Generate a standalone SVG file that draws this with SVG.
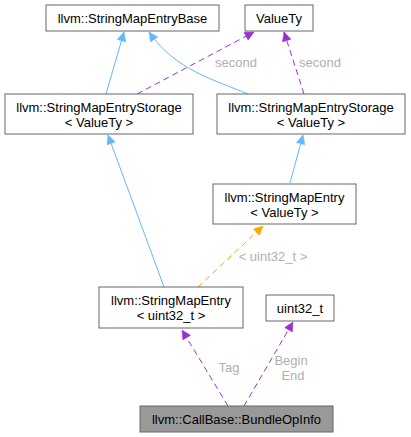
<svg xmlns="http://www.w3.org/2000/svg" width="411" height="437" viewBox="0 0 411 437">
<style>
  .node rect { fill: #ffffff; stroke: #666666; stroke-width: 1; }
  .node.main rect { fill: #999999; }
  .node text { font-family: "Liberation Sans", Arial, Helvetica, sans-serif; font-size: 13px; fill: #000000; text-anchor: middle; }
  .edge { fill: none; stroke-width: 1; }
  .inh { stroke: #63b8ff; }
  .use { stroke: #9a32cd; stroke-dasharray: 6,4; }
  .tpl { stroke: #ffa500; stroke-dasharray: 6,4; }
  .lbl { font-family: "Liberation Sans", Arial, Helvetica, sans-serif; font-size: 13px; fill: #b0b0b0; text-anchor: middle; }
</style>
<defs>
  <marker id="aBlue" viewBox="0 0 10 10" refX="10" refY="5" markerWidth="11" markerHeight="9" markerUnits="userSpaceOnUse" orient="auto">
    <path d="M0,0 L10,5 L0,10 z" fill="#63b8ff" stroke="#63b8ff" stroke-width="0.5"/>
  </marker>
  <marker id="aPurple" viewBox="0 0 10 10" refX="10" refY="5" markerWidth="11" markerHeight="9" markerUnits="userSpaceOnUse" orient="auto">
    <path d="M0,0 L10,5 L0,10 z" fill="#9a32cd" stroke="#9a32cd" stroke-width="0.5"/>
  </marker>
  <marker id="aOrange" viewBox="0 0 10 10" refX="10" refY="5" markerWidth="11" markerHeight="9" markerUnits="userSpaceOnUse" orient="auto">
    <path d="M0,0 L10,5 L0,10 z" fill="#ffa500" stroke="#ffa500" stroke-width="0.5"/>
  </marker>
</defs>

<g id="edges">
  <path class="edge inh" d="M106,94 L124,32" marker-end="url(#aBlue)"/>
  <path class="edge inh" d="M248,94 C215,80 175,70 149,32" marker-end="url(#aBlue)"/>
  <path class="edge use" d="M137,94 L254,32" marker-end="url(#aPurple)"/>
  <path class="edge use" d="M304,94 L284,32" marker-end="url(#aPurple)"/>
  <path class="edge inh" d="M290,183 L303,135" marker-end="url(#aBlue)"/>
  <path class="edge inh" d="M164,287 L108,135" marker-end="url(#aBlue)"/>
  <path class="edge tpl" d="M198,287 L263,226" marker-end="url(#aOrange)"/>
  <path class="edge use" d="M228,406 L182,330" marker-end="url(#aPurple)"/>
  <path class="edge use" d="M244,406 L293,322" marker-end="url(#aPurple)"/>
  <text class="lbl" x="236" y="67">second</text>
  <text class="lbl" x="320" y="67">second</text>
  <text class="lbl" x="273" y="261">&lt; uint32_t &gt;</text>
  <text class="lbl" x="229" y="372">Tag</text>
  <text class="lbl" x="291" y="365">Begin</text>
  <text class="lbl" x="293" y="380">End</text>
</g>

<g id="node_base" class="node">
  <rect x="46" y="5" width="173" height="26"/>
  <text x="132.5" y="22.5">llvm::StringMapEntryBase</text>
</g>
<g id="node_valuety" class="node">
  <rect x="245" y="5" width="68" height="26"/>
  <text x="279" y="22.5">ValueTy</text>
</g>
<g id="node_storage_left" class="node">
  <rect x="5" y="94" width="188" height="40"/>
  <text x="99" y="112">llvm::StringMapEntryStorage</text>
  <text x="99" y="126.5">&lt; ValueTy &gt;</text>
</g>
<g id="node_storage_right" class="node">
  <rect x="217" y="94" width="188" height="40"/>
  <text x="311" y="112">llvm::StringMapEntryStorage</text>
  <text x="311" y="126.5">&lt; ValueTy &gt;</text>
</g>
<g id="node_entry_valuety" class="node">
  <rect x="213" y="184" width="143" height="40"/>
  <text x="284.5" y="202">llvm::StringMapEntry</text>
  <text x="284.5" y="216.5">&lt; ValueTy &gt;</text>
</g>
<g id="node_entry_uint32" class="node">
  <rect x="99" y="287" width="144" height="41"/>
  <text x="171" y="305">llvm::StringMapEntry</text>
  <text x="171" y="319.5">&lt; uint32_t &gt;</text>
</g>
<g id="node_uint32" class="node">
  <rect x="266" y="295" width="68" height="26"/>
  <text x="300" y="312.5">uint32_t</text>
</g>
<g id="node_bundleopinfo" class="node main">
  <rect x="140" y="406" width="193" height="26"/>
  <text x="236.5" y="423.5">llvm::CallBase::BundleOpInfo</text>
</g>
</svg>
